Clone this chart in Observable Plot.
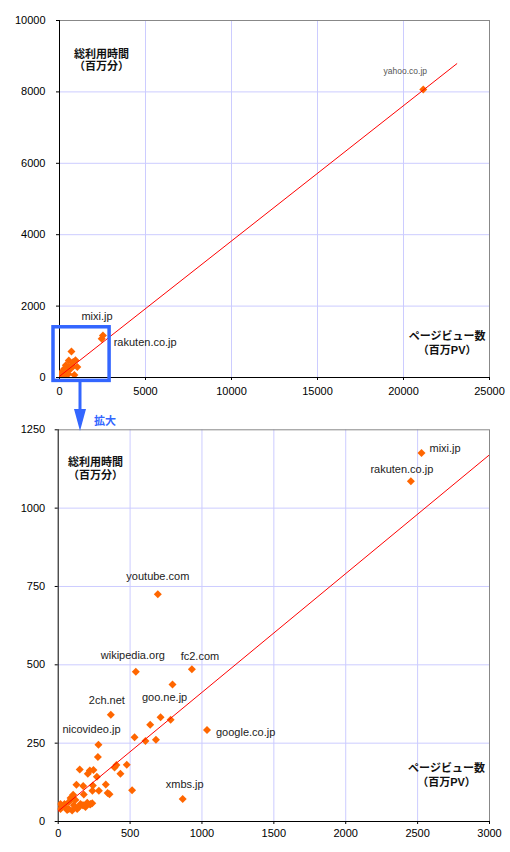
<!DOCTYPE html>
<html><head><meta charset="utf-8">
<script src="https://cdn.jsdelivr.net/npm/d3@7"></script>
<script src="https://cdn.jsdelivr.net/npm/@observablehq/plot@0.6"></script>
<style>
body{margin:0;background:#fff;}
#wrap{position:relative;width:510px;height:852px;overflow:hidden;}
#wrap > svg, #wrap > figure{display:block;margin:0;}
</style></head><body><div id="wrap"></div>
<script>
// ---- data ----
const siteNames = [
  "yahoo.co.jp","mixi.jp","rakuten.co.jp","youtube.com","wikipedia.org","fc2.com",
  "goo.ne.jp","2ch.net","nicovideo.jp","google.co.jp","xmbs.jp",
  "","","","","","","","","","","","","","","","","","","","","","","","","","","","","",
  "","","","","","","","","","","","","","","","","","","","","","",""
];
const pageViews = [
  21150, 2527, 2453, 693, 540, 930,
  712, 366, 280, 1035, 866,
  795, 782, 640, 531, 607, 680, 276, 150, 220, 245, 477, 405, 392, 433, 269, 206, 127, 174, 241, 331, 178, 238, 283, 344, 357, 514, 104, 86,
  16, 16, 51, 74, 109, 132, 155, 178, 202, 225, 237, 90, 120, 167, 44, 62, 97, 190, 144, 74, 28, 197, 222
];
const totalMinutes = [
  8070, 1176, 1086, 725, 478, 486,
  333, 341, 245, 292, 72,
  437, 325, 309, 269, 257, 261, 206, 166, 163, 164, 181, 180, 172, 152, 143, 152, 117, 113, 115, 118, 86, 98, 98, 91, 87, 100, 85, 75,
  56, 40, 46, 62, 52, 40, 56, 52, 60, 56, 58, 69, 69, 52, 56, 37, 35, 46, 46, 40, 48, 54, 54
];
const trendPV = [0, 23100];
const trendMinutes = [33, 8790];

const topXTicks = [0, 5000, 10000, 15000, 20000, 25000];
const topYTicks = [0, 2000, 4000, 6000, 8000, 10000];
const zoomXTicks = [0, 500, 1000, 1500, 2000, 2500, 3000];
const zoomYTicks = [0, 250, 500, 750, 1000, 1250];

const yTitle = ["総利用時間", "（百万分）"];
const xTitle = ["ページビュー数", "（百万PV）"];
const zoomWord = "拡大";
const topLabelNames = ["yahoo.co.jp", "mixi.jp", "rakuten.co.jp"];
const zoomLabelNames = ["mixi.jp","rakuten.co.jp","youtube.com","wikipedia.org","fc2.com","goo.ne.jp","2ch.net","nicovideo.jp","google.co.jp","xmbs.jp"];

// ---- styling / placement ----
const font = "'Liberation Sans','Noto Sans CJK JP',sans-serif";
const gridColor = "#ccccff";
const orange = "#ff6600";
const blue = "#3366ff";

const topPlacement = {
  "yahoo.co.jp": {dx: -18, dy: -18, size: 8.5, fill: "#555"},
  "mixi.jp": {dx: -6, dy: -19},
  "rakuten.co.jp": {dx: 12, dy: 3.5, anchor: "start"}
};
const zoomPlacement = {
  "mixi.jp": {dx: 8, dy: -5, anchor: "start"},
  "rakuten.co.jp": {dx: -9, dy: -12},
  "youtube.com": {dx: 0, dy: -18},
  "wikipedia.org": {dx: -3, dy: -16},
  "fc2.com": {dx: 8, dy: -13},
  "goo.ne.jp": {dx: 4, dy: -20},
  "2ch.net": {dx: -4, dy: -14},
  "nicovideo.jp": {dx: -7, dy: -15},
  "google.co.jp": {dx: 9, dy: 2, anchor: "start"},
  "xmbs.jp": {dx: 2, dy: -14}
};

const data = siteNames.map((name, i) => ({name, pv: pageViews[i], min: totalMinutes[i]}));
const trend = trendPV.map((pv, i) => ({pv, min: trendMinutes[i]}));

function labelMarks(names, placement) {
  return names.map(n => {
    const p = placement[n];
    return Plot.text(data.filter(d => d.name === n), {
      x: "pv", y: "min", text: "name", dx: p.dx, dy: p.dy,
      textAnchor: p.anchor || "middle", fill: p.fill || "#222", fontSize: p.size || 11
    });
  });
}

function chart(o) {
  const xt = o.xTicks, yt = o.yTicks;
  return Plot.plot({
    width: 510, height: o.height,
    marginTop: o.mt, marginRight: 21, marginBottom: o.mb, marginLeft: o.ml,
    style: {fontFamily: font, fontSize: "11px", color: "#000", background: "#fff"},
    x: {domain: [xt[0], xt[xt.length - 1]]},
    y: {domain: [yt[0], yt[yt.length - 1]]},
    marks: [
      Plot.gridX(xt.slice(1, -1), {stroke: gridColor, strokeOpacity: 1}),
      Plot.gridY(yt.slice(1, -1), {stroke: gridColor, strokeOpacity: 1}),
      Plot.ruleY([yt[yt.length - 1]], {stroke: "#888"}),
      Plot.ruleX([xt[xt.length - 1]], {stroke: "#888"}),
      Plot.axisX(xt, {tickSize: 3, tickPadding: o.xPad, tickFormat: d => String(d), label: null}),
      Plot.axisY(yt, {tickSize: 3, tickPadding: o.yPad, tickFormat: d => String(d), label: null}),
      Plot.ruleX([xt[0]], {stroke: "#000"}),
      Plot.ruleY([yt[0]], {stroke: "#000"}),
      Plot.dot(data, {x: "pv", y: "min", symbol: "diamond2", r: 3.6, fill: orange, stroke: "none", clip: true}),
      Plot.line(trend, {x: "pv", y: "min", stroke: "#ff0000", strokeWidth: 1, clip: true}),
      ...labelMarks(o.labels, o.placement),
      Plot.text([yTitle.join("\n")], {frameAnchor: "top-left", dx: o.yTitle[0], dy: o.yTitle[1], text: d => d,
        textAnchor: "middle", lineHeight: o.yLH, fontWeight: "bold", fill: "#111"}),
      Plot.text([xTitle.join("\n")], {frameAnchor: "bottom-right", dx: o.xTitle[0], dy: o.xTitle[1], text: d => d,
        textAnchor: "middle", lineHeight: o.xLH, fontWeight: "bold", fill: "#111"}),
      ...(o.extra || [])
    ]
  });
}

const wrap = document.getElementById("wrap");

const topChart = chart({
  height: 405, mt: 20, mb: 28, ml: 59, xPad: 7, yPad: 11,
  xTicks: topXTicks, yTicks: topYTicks,
  labels: topLabelNames, placement: topPlacement,
  yTitle: [42, 28.9], yLH: 1.12, xTitle: [-42.3, -23.1], xLH: 1.35,
  extra: [
    Plot.rect([{x1: zoomXTicks[0], x2: zoomXTicks[zoomXTicks.length - 1], y1: zoomYTicks[0], y2: zoomYTicks[zoomYTicks.length - 1]}],
      {x1: "x1", x2: "x2", y1: "y1", y2: "y2", fill: "none", stroke: blue, strokeWidth: 3.5,
       insetLeft: -6, insetRight: 1.5, insetTop: -5.6, insetBottom: -3.4})
  ]
});
wrap.appendChild(topChart);

const zoomChart = chart({
  height: 447, mt: 24.3, mb: 31, ml: 57.7, xPad: 5, yPad: 10,
  xTicks: zoomXTicks, yTicks: zoomYTicks,
  labels: zoomLabelNames, placement: zoomPlacement,
  yTitle: [37.3, 27.7], yLH: 1.15, xTitle: [-43, -35.1], xLH: 1.3
});
wrap.appendChild(zoomChart);

// overlay: arrow + "拡大"
const ov = d3.select(wrap).append("svg")
  .attr("width", 510).attr("height", 852)
  .style("position", "absolute").style("left", 0).style("top", 0).style("pointer-events", "none");
ov.append("line").attr("x1", 80).attr("x2", 80).attr("y1", 382).attr("y2", 412)
  .attr("stroke", blue).attr("stroke-width", 3);
ov.append("path").attr("d", "M74,409L86,409L80,431Z").attr("fill", blue);
ov.append("text").attr("x", 94).attr("y", 422).attr("dominant-baseline", "middle")
  .attr("font-family", font).attr("font-size", 11).attr("font-weight", "bold").attr("fill", blue)
  .text(zoomWord);
</script></body></html>
